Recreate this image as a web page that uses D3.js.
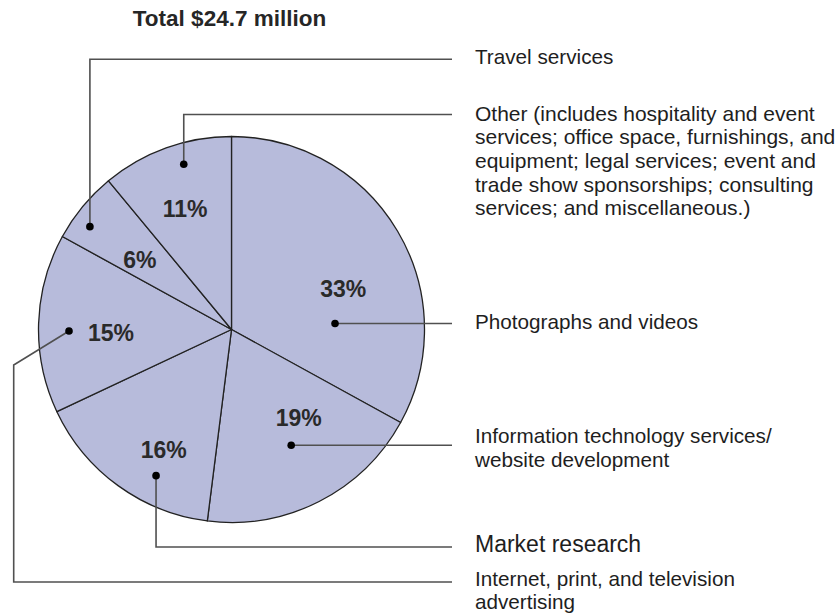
<!DOCTYPE html>
<html>
<head>
<meta charset="utf-8">
<script src="https://cdn.jsdelivr.net/npm/d3@7"></script>
<style>
  html, body { margin: 0; padding: 0; background: #fff; }
  svg { display: block; font-family: "Liberation Sans", Arial, Helvetica, sans-serif; }
</style>
</head>
<body>
<svg id="chart" width="839" height="614"></svg>
<script>
// Spending categories, clockwise from 12 o'clock
const categories = [
  "Photographs and videos",
  "Information technology services/ website development",
  "Market research",
  "Internet, print, and television advertising",
  "Travel services",
  "Other"
];
const shares = [33, 19, 16, 15, 6, 11];
const labelLines = [
  ["Photographs and videos"],
  ["Information technology services/", "website development"],
  ["Market research"],
  ["Internet, print, and television", "advertising"],
  ["Travel services"],
  ["Other (includes hospitality and event",
   "services; office space, furnishings, and",
   "equipment; legal services; event and",
   "trade show sponsorships; consulting",
   "services; and miscellaneous.)"]
];
const titleText = "Total $24.7 million";

// ---- layout ----
const W = 839, H = 614;
const cx = 231.5, cy = 329.5, R = 193;
const textX = 475, leaderEndX = 452;

// percent label placement inside each wedge: [fraction of wedge angle, radius]
const pctPlace = [[0.588, 119], [0.35, 111], [0.385, 138], [0.44, 120.5], [0.4, 115.5], [0.468, 129]];
// callout dot placement inside each wedge: [fraction of wedge angle, radius]
const dotPlace = [[0.73, 103.7], [0.496, 130.3], [0.349, 164.5], [0.457, 162.5], [0.333, 175], [0.593, 172]];

const svg = d3.select("#chart");

svg.append("text")
  .attr("x", 229.5).attr("y", 26)
  .attr("text-anchor", "middle")
  .attr("font-size", 22.5).attr("font-weight", "bold")
  .attr("fill", "#262626")
  .text(titleText);

const pie = d3.pie().sort(null).value(d => d).startAngle(0).endAngle(2 * Math.PI);
const arcs = pie(shares);
const arc = d3.arc().innerRadius(0).outerRadius(R);

const g = svg.append("g").attr("transform", `translate(${cx},${cy})`);

g.selectAll("path.slice")
  .data(arcs)
  .join("path")
  .attr("class", "slice")
  .attr("d", arc)
  .attr("fill", "#b7bbdb")
  .attr("stroke", "#222")
  .attr("stroke-width", 1.3)
  .attr("stroke-linejoin", "round");

// polar point within a wedge (angle measured clockwise from 12 o'clock)
function polar(a, place) {
  const ang = a.startAngle + (a.endAngle - a.startAngle) * place[0];
  return [cx + place[1] * Math.sin(ang), cy - place[1] * Math.cos(ang)];
}

// percentage labels
svg.selectAll("text.pct")
  .data(arcs)
  .join("text")
  .attr("class", "pct")
  .attr("x", (d, i) => polar(d, pctPlace[i])[0])
  .attr("y", (d, i) => polar(d, pctPlace[i])[1])
  .attr("dy", "0.36em")
  .attr("text-anchor", "middle")
  .attr("font-size", 23).attr("font-weight", "bold")
  .attr("fill", "#2a2a2a")
  .text(d => d.value + "%");

// leader line routes from each callout dot to its label
const dots = arcs.map((d, i) => polar(d, dotPlace[i]));
const routeY = { travel: 59.3, other: 114.5, market: 547, internet: 582 };
const routes = [
  p => [p, [leaderEndX, p[1]]],
  p => [p, [leaderEndX, p[1]]],
  p => [p, [p[0], routeY.market], [leaderEndX, routeY.market]],
  p => [p, [13.7, 365], [13.7, routeY.internet], [leaderEndX, routeY.internet]],
  p => [p, [p[0], routeY.travel], [leaderEndX, routeY.travel]],
  p => [p, [p[0], routeY.other], [leaderEndX, routeY.other]]
];

svg.selectAll("path.leader")
  .data(dots)
  .join("path")
  .attr("class", "leader")
  .attr("d", (p, i) => d3.line()(routes[i](p)))
  .attr("fill", "none")
  .attr("stroke", "#505050")
  .attr("stroke-width", 1.6);

svg.selectAll("circle.dot")
  .data(dots)
  .join("circle")
  .attr("class", "dot")
  .attr("cx", p => p[0]).attr("cy", p => p[1])
  .attr("r", 3.8)
  .attr("fill", "#000");

// category labels: first baseline for each block
const labelBase = [329.3, 443.3, 551.7, 585.7, 64, 120.5];
const labelSize = [20.7, 20.7, 23, 20.7, 20.7, 21];
const lineGap = 23.7;

labelLines.forEach((lines, i) => {
  const t = svg.append("text")
    .attr("x", textX)
    .attr("y", labelBase[i])
    .attr("font-size", labelSize[i])
    .attr("fill", "#1e1e1e");
  lines.forEach((ln, k) => {
    t.append("tspan")
      .attr("x", textX)
      .attr("y", labelBase[i] + k * lineGap)
      .text(ln);
  });
});
</script>
</body>
</html>
